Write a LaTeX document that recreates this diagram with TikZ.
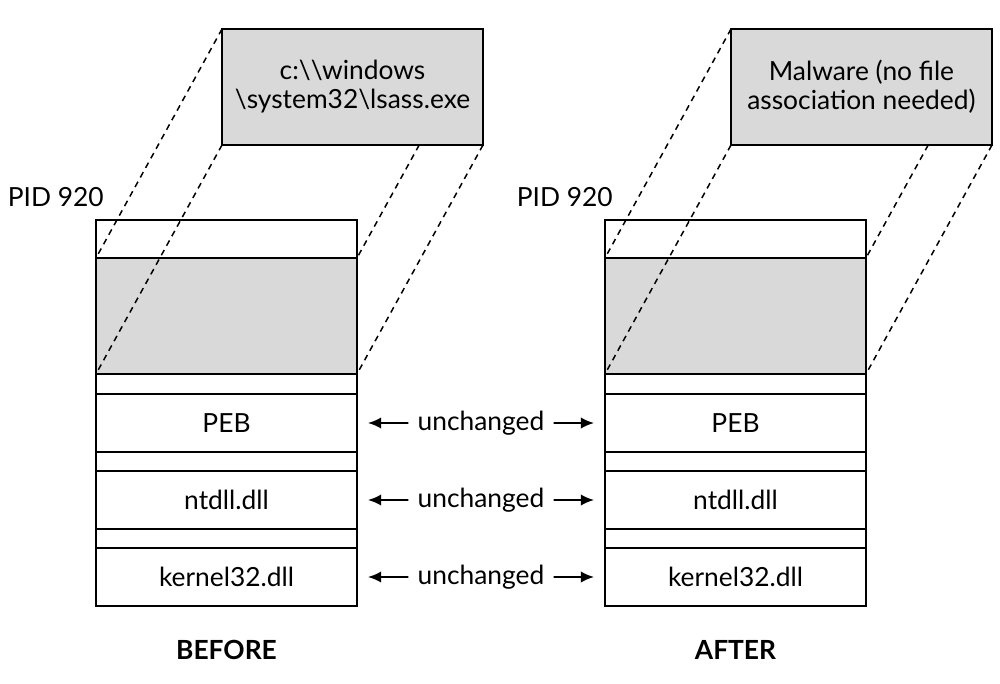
\documentclass[tikz,border=0pt]{standalone}
\usepackage{fontspec}
\setmainfont{Lato}
\usetikzlibrary{arrows.meta,positioning,calc}

\begin{document}
\begin{tikzpicture}[
    node distance=0pt,
    row/.style={
      draw,
      line width=0.9pt,
      minimum width=5.22cm,
      minimum height=1.16cm,
      inner sep=0pt,
      outer sep=0pt,
      font=\fontsize{15}{16.5}\selectfont
    },
    spacer/.style={row, minimum height=0.38cm},
    mapped/.style={row, fill=black!15, minimum height=2.32cm},
    filebox/.style={
      row,
      fill=black!15,
      minimum height=2.32cm,
      align=center
    },
    proj/.style={draw, line width=0.85pt, dash pattern=on 3.4pt off 2.8pt},
    keep/.style={inner xsep=0.18cm, inner ysep=0pt, font=\fontsize{15}{16.5}\selectfont},
    line/.style={draw, -{Latex[length=7.5pt,width=6.5pt]}, line width=1.1pt, shorten >=0.22cm},
    pid/.style={inner sep=0pt, font=\fontsize{15}{16.5}\selectfont},
    caption/.style={inner sep=0pt, font=\fontsize{15}{16.5}\selectfont\bfseries}
]
    \useasboundingbox (0,0) rectangle (20,-13.68);

    % Nodes
    \node [row, minimum height=0.76cm, anchor=north west] (topL) at (1.92,-4.40) {};
    \node [mapped, below=of topL] (imageL) {};
    \node [spacer, minimum height=0.40cm, below=of imageL] (gapL1) {};
    \node [row, below=of gapL1] (pebL) {PEB};
    \node [spacer, below=of pebL] (gapL2) {};
    \node [row, below=of gapL2] (ntdllL) {ntdll.dll};
    \node [spacer, below=of ntdllL] (gapL3) {};
    \node [row, below=of gapL3] (kernelL) {kernel32.dll};

    \node [row, minimum height=0.76cm, anchor=north west] (topR) at (12.10,-4.40) {};
    \node [mapped, below=of topR] (imageR) {};
    \node [spacer, minimum height=0.40cm, below=of imageR] (gapR1) {};
    \node [row, below=of gapR1] (pebR) {PEB};
    \node [spacer, below=of pebR] (gapR2) {};
    \node [row, below=of gapR2] (ntdllR) {ntdll.dll};
    \node [spacer, below=of ntdllR] (gapR3) {};
    \node [row, below=of gapR3] (kernelR) {kernel32.dll};

    \node [filebox] (fileL) at ($(imageL.center)+(2.52,4.58)$) {c:\textbackslash\textbackslash windows\\\textbackslash system32\textbackslash lsass.exe};
    \node [filebox] (fileR) at ($(imageR.center)+(2.52,4.58)$) {Malware (no file\\association needed)};

    \node [keep] (keepPeb) at ($(pebL.east)!0.5!(pebR.west)$) {unchanged};
    \node [keep] (keepNtdll) at ($(ntdllL.east)!0.5!(ntdllR.west)$) {unchanged};
    \node [keep] (keepKernel) at ($(kernelL.east)!0.5!(kernelR.west)$) {unchanged};

    % Projections
    \path [proj] (fileL.north west) -- (imageL.north west);
    \path [proj] (fileL.south west) -- (imageL.south west);
    \path [proj] (intersection of fileL.south west--fileL.south east and fileL.north east--imageL.north east) -- (imageL.north east);
    \path [proj] (fileL.south east) -- (imageL.south east);
    \path [proj] (fileR.north west) -- (imageR.north west);
    \path [proj] (fileR.south west) -- (imageR.south west);
    \path [proj] (intersection of fileR.south west--fileR.south east and fileR.north east--imageR.north east) -- (imageR.north east);
    \path [proj] (fileR.south east) -- (imageR.south east);

    % Edges
    \path [line] (keepPeb) -- (pebL);
    \path [line] (keepPeb) -- (pebR);
    \path [line] (keepNtdll) -- (ntdllL);
    \path [line] (keepNtdll) -- (ntdllR);
    \path [line] (keepKernel) -- (kernelL);
    \path [line] (keepKernel) -- (kernelR);

    % Annotations
    \node [pid, above left=0.26cm and -0.16cm of topL.north west] (pidL) {PID 920};
    \node [pid, above left=0.26cm and -0.16cm of topR.north west] (pidR) {PID 920};
    \node [caption, below=0.68cm of kernelL] (before) {BEFORE};
    \node [caption, below=0.68cm of kernelR] (after) {AFTER};

\end{tikzpicture}
\end{document}
